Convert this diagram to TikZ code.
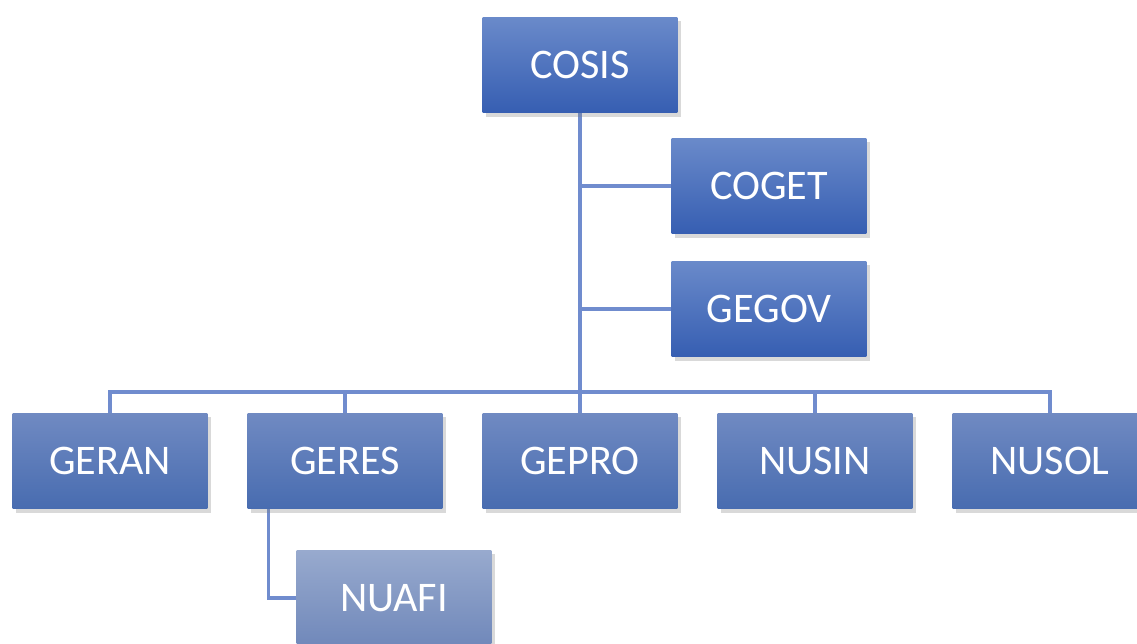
\documentclass[tikz,border=0pt]{standalone}
\usepackage{fontspec}
\setmainfont{Carlito}
\usetikzlibrary{shadows,backgrounds}

\definecolor{topA}{RGB}{106,138,202}
\definecolor{botA}{RGB}{54,94,178}
\definecolor{topB}{RGB}{112,138,194}
\definecolor{botB}{RGB}{72,108,176}
\definecolor{topC}{RGB}{152,170,206}
\definecolor{botC}{RGB}{112,136,186}
\definecolor{linkblue}{RGB}{112,140,206}

\begin{document}
\begin{tikzpicture}[%
x=0.02cm, y=-0.02cm,
unit/.style={rectangle, minimum width=3.9cm, minimum height=1.92cm,
  text=white, font=\fontsize{24}{28}\selectfont,
  drop shadow={shadow xshift=2pt, shadow yshift=-2.5pt, opacity=0.3}},
head/.style={unit, top color=topA, bottom color=botA},
dept/.style={unit, top color=topB, bottom color=botB},
sub/.style={unit, top color=topC, bottom color=botC},
link/.style={draw=linkblue, line width=1.8pt},
]
\useasboundingbox (0,0) rectangle (1137,644);
\clip (0,0) rectangle (1137,644);
\coordinate (bar) at (580,392);
%% top;
\node [head] (cosis) at (580,65) {COSIS};
\node [head] (coget) at (769,186) {COGET};
\node [head] (gegov) at (769,309) {GEGOV};
%% row;
\node [dept] (geran) at (110,461) {GERAN};
\node [dept] (geres) at (345,461) {GERES};
\node [dept] (gepro) at (580,461) {GEPRO};
\node [dept] (nusin) at (815,461) {NUSIN};
\node [dept] (nusol) at (1050,461) {NUSOL};
%% sub unit;
\node [sub] (nuafi) at (394,598) {NUAFI};
%% links;
\begin{pgfonlayer}{background}
\draw [link] (cosis.south) -- (gepro.north);
\draw [link] (cosis.south |- coget.west) -- (coget.west);
\draw [link] (cosis.south |- gegov.west) -- (gegov.west);
\foreach \n in {geran,geres,nusin,nusol}
  \draw [link] (\n.north) |- (bar);
\draw [link] ([xshift=0.42cm]geres.south west) |- (nuafi.west);
\end{pgfonlayer}
\end{tikzpicture}
\end{document}
